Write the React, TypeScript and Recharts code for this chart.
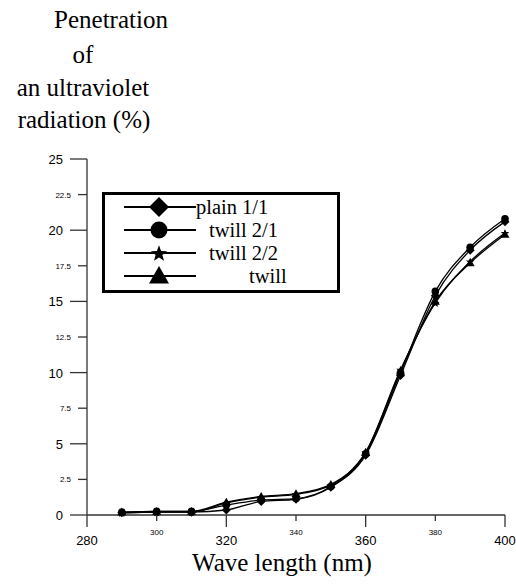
import React from "react";
import { LineChart, Line, XAxis, YAxis } from "recharts";

// wavelength (nm) and UV penetration (%) per fabric weave
const waveLengths = [290, 300, 310, 320, 330, 340, 350, 360, 370, 380, 390, 400];
const plain11 = [0.15, 0.2, 0.2, 0.35, 0.95, 1.1, 1.95, 4.2, 9.8, 15.4, 18.6, 20.6];
const twill21 = [0.2, 0.25, 0.25, 0.7, 1.05, 1.15, 2.0, 4.3, 10.0, 15.7, 18.8, 20.8];
const twill22 = [0.15, 0.2, 0.2, 0.85, 1.25, 1.45, 2.1, 4.4, 10.2, 14.9, 17.8, 19.8];
const twill = [0.2, 0.25, 0.25, 0.9, 1.3, 1.5, 2.15, 4.4, 10.1, 15.0, 17.7, 19.7];

const xTicks = [280, 300, 320, 340, 360, 380, 400];
const xMajor = [280, 320, 360, 400];
const yTicks = [0, 2.5, 5, 7.5, 10, 12.5, 15, 17.5, 20, 22.5, 25];

const titleLines = ["Penetration", "of", "an ultraviolet", "radiation (%)"];

type Shape = "diamond" | "circle" | "star" | "triangle";

const series: { key: string; name: string; shape: Shape; values: number[] }[] = [
  { key: "plain11", name: "plain 1/1", shape: "diamond", values: plain11 },
  { key: "twill21", name: "twill 2/1", shape: "circle", values: twill21 },
  { key: "twill22", name: "twill 2/2", shape: "star", values: twill22 },
  { key: "twill", name: "twill", shape: "triangle", values: twill },
];

const data = waveLengths.map((w, i) => {
  const row: Record<string, number> = { wave: w };
  series.forEach((s) => (row[s.key] = s.values[i]));
  return row;
});

const SERIF = "'Liberation Serif', 'Times New Roman', serif";
const SANS = "'Liberation Sans', Arial, sans-serif";

function starPoints(cx: number, cy: number, r: number) {
  const pts: string[] = [];
  for (let i = 0; i < 10; i++) {
    const rad = i % 2 === 0 ? r : r * 0.42;
    const a = -Math.PI / 2 + (i * Math.PI) / 5;
    pts.push(`${cx + rad * Math.cos(a)},${cy + rad * Math.sin(a)}`);
  }
  return pts.join(" ");
}

function Marker({ shape, cx, cy, size }: { shape: Shape; cx: number; cy: number; size: number }) {
  const r = size / 2;
  if (shape === "diamond")
    return <polygon points={`${cx},${cy - r} ${cx + r},${cy} ${cx},${cy + r} ${cx - r},${cy}`} fill="#000" />;
  if (shape === "circle") return <circle cx={cx} cy={cy} r={r * 0.85} fill="#000" />;
  if (shape === "star") return <polygon points={starPoints(cx, cy + r * 0.1, r)} fill="#000" />;
  return <polygon points={`${cx},${cy - r} ${cx + r},${cy + r * 0.75} ${cx - r},${cy + r * 0.75}`} fill="#000" />;
}

const makeDot = (shape: Shape) => (props: any) => {
  const { cx, cy, index } = props;
  if (cx == null || cy == null) return <g key={index} />;
  return (
    <g key={index}>
      <Marker shape={shape} cx={cx} cy={cy} size={9} />
    </g>
  );
};

function XTick(props: any) {
  const { x, y, payload } = props;
  const major = xMajor.includes(payload.value);
  return (
    <g>
      <line x1={x} x2={x} y1={y} y2={y + (major ? 12 : 6)} stroke="#333" strokeWidth={1.3} />
      <text
        x={x}
        y={y + (major ? 30 : 20)}
        textAnchor="middle"
        fontFamily={SANS}
        fontSize={major ? 13 : 8}
        fill="#000"
      >
        {payload.value}
      </text>
    </g>
  );
}

function YTick(props: any) {
  const { x, y, payload } = props;
  const major = payload.value % 5 === 0;
  return (
    <g>
      <line x1={x - (major ? 17 : 9)} x2={x} y1={y} y2={y} stroke="#333" strokeWidth={1.3} />
      <text
        x={x - (major ? 24 : 16)}
        y={y + (major ? 5 : 3)}
        textAnchor="end"
        fontFamily={SANS}
        fontSize={major ? 13 : 8}
        fill="#000"
      >
        {payload.value}
      </text>
    </g>
  );
}

function LegendBox() {
  const rowY = [15, 38, 61, 84];
  const textX = [94, 107, 107, 147];
  return (
    <svg
      width={238}
      height={101}
      style={{ position: "absolute", left: 102, top: 192, overflow: "visible" }}
    >
      <rect x={1.5} y={1.5} width={235} height={98} fill="#fff" stroke="#000" strokeWidth={3} />
      {series.map((s, i) => (
        <g key={s.key}>
          <line x1={22} x2={94} y1={rowY[i]} y2={rowY[i]} stroke="#000" strokeWidth={2} />
          <Marker shape={s.shape} cx={57} cy={rowY[i]} size={s.shape === "star" ? 17 : 20} />
          <text x={textX[i]} y={rowY[i] + 7} fontFamily={SERIF} fontSize={20.5} fill="#000">
            {s.name}
          </text>
        </g>
      ))}
    </svg>
  );
}

export default function App() {
  const titleX = [111, 83, 83, 84];
  const titleY = [28, 63, 96, 128];
  return (
    <div style={{ position: "absolute", left: 0, top: 0, width: 516, height: 585, background: "#fff" }}>
      <LineChart
        width={516}
        height={585}
        data={data}
        margin={{ top: 159, right: 11, bottom: 69, left: 86 }}
      >
        <XAxis
          dataKey="wave"
          type="number"
          domain={[280, 400]}
          ticks={xTicks}
          interval={0}
          height={1}
          tickSize={0}
          tickMargin={0}
          tick={<XTick />}
          axisLine={{ stroke: "#333", strokeWidth: 1.3 }}
        />
        <YAxis
          type="number"
          domain={[0, 25]}
          ticks={yTicks}
          interval={0}
          width={1}
          tickSize={0}
          tickMargin={0}
          tick={<YTick />}
          axisLine={{ stroke: "#333", strokeWidth: 1.3 }}
        />
        {series.map((s) => (
          <Line
            key={s.key}
            dataKey={s.key}
            name={s.name}
            type="monotone"
            stroke="#000"
            strokeWidth={1.3}
            dot={makeDot(s.shape)}
            activeDot={false}
            isAnimationActive={false}
          />
        ))}
      </LineChart>
      <svg width={516} height={585} style={{ position: "absolute", left: 0, top: 0, pointerEvents: "none" }}>
        {titleLines.map((t, i) => (
          <text key={t} x={titleX[i]} y={titleY[i]} textAnchor="middle" fontFamily={SERIF} fontSize={25} fill="#000">
            {t}
          </text>
        ))}
        <text x={282} y={571} textAnchor="middle" fontFamily={SERIF} fontSize={25} fill="#000">
          Wave length (nm)
        </text>
      </svg>
      <LegendBox />
    </div>
  );
}
